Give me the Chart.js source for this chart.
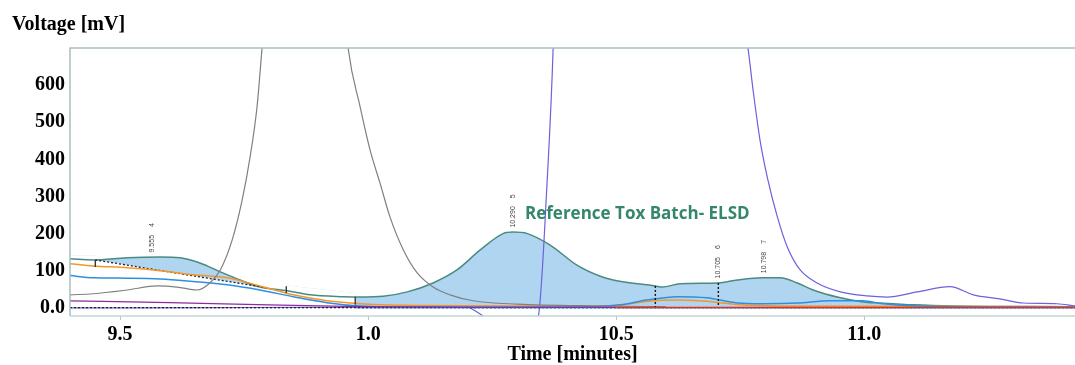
<!DOCTYPE html>
<html>
<head>
<meta charset="utf-8">
<script src="https://cdn.jsdelivr.net/npm/chart.js@4.4.1/dist/chart.umd.min.js"></script>
<style>
  body { margin: 0; background: #fff; }
  canvas { display: block; }
</style>
</head>
<body>
<canvas id="chart" width="1075" height="365"></canvas>
<script>
// axis ticks
const xTickValues = [9.5, 10.0, 10.5, 11.0];
const xTickLabels = ['9.5', '1.0', '10.5', '11.0'];
const yTickValues = [0, 100, 200, 300, 400, 500, 600];
const yTickLabels = ['0.0', '100', '200', '300', '400', '500', '600'];

// ELSD trace (filled)
const elsdTime = [9.399, 9.446, 9.514, 9.581, 9.621, 9.661, 9.702, 9.742, 9.782, 9.837, 9.883, 9.950, 9.984,
  10.030, 10.079, 10.131, 10.179, 10.226, 10.272, 10.292, 10.321, 10.367, 10.421, 10.468, 10.494, 10.579, 10.593,
  10.629, 10.706, 10.744, 10.796, 10.831, 10.865, 10.897, 10.952, 10.998, 11.032, 11.100, 11.180, 11.425];
const elsdMv = [132, 129, 135, 137, 135, 121, 97, 75, 56, 46, 35, 30, 29,
  31, 43, 67, 102, 156, 200, 204, 200, 169, 115, 85, 75, 59, 56,
  65, 67, 75, 81, 81, 67, 48, 27, 16, 13, 8, 5, 3];

// lower edge of the shaded peak areas
const fillBaseTime = [9.399, 9.449, 9.450, 9.796, 9.835, 9.836, 9.974, 9.975, 11.425];
const fillBaseMv = [140, 140, 129, 54, 50, 60, 40, -3, -3];

// dotted split line under peak 4
const splitTime = [9.450, 9.796];
const splitMv = [129, 54];

const orangeTime = [9.399, 9.446, 9.514, 9.581, 9.647, 9.716, 9.782, 9.849, 9.917, 9.984, 10.10, 10.30,
  10.494, 10.528, 10.583, 10.629, 10.696, 10.750, 10.850, 11.032, 11.425];
const orangeMv = [119, 113, 108, 100, 89, 81, 59, 35, 19, 11, 6, 5, 5, 11, 20, 21, 16, 8, 5, 4, 3];

const blueTime = [9.399, 9.446, 9.514, 9.581, 9.647, 9.716, 9.782, 9.849, 9.917, 9.984, 10.10, 10.40,
  10.508, 10.562, 10.623, 10.683, 10.744, 10.796, 10.865, 10.931, 10.998, 11.038, 11.107, 11.173, 11.425];
const blueMv = [87, 81, 80, 78, 71, 62, 48, 30, 14, 5, 2, 2, 8, 21, 30, 27, 13, 11, 13, 19, 19, 11, 5, 3, 2];

const grayTime = [9.399, 9.446, 9.514, 9.575, 9.615, 9.655, 9.681, 9.702, 9.726, 9.746, 9.762, 9.776, 9.786,
  9.830, 9.871, 9.915, 9.960, 9.984, 10.004, 10.024, 10.044, 10.071, 10.099, 10.131, 10.165, 10.212, 10.300,
  10.470, 10.600];
const grayMv = [35, 38, 48, 59, 56, 48, 67, 102, 183, 290, 406, 541, 697,
  1350, 1700, 1350, 697, 541, 425, 336, 245, 156, 94, 56, 35, 19, 10, 5, 3];

const violetTime = [9.399, 10.10, 10.192, 10.212, 10.232, 10.280, 10.335, 10.343, 10.361, 10.373, 10.390,
  10.450, 10.600, 10.700, 10.766, 10.776, 10.790, 10.806, 10.825, 10.845, 10.871, 10.905, 10.952, 11.006,
  11.046, 11.107, 11.173, 11.220, 11.274, 11.321, 11.389, 11.425];
const violetMv = [0, 2, 6, -5, -22, -60, -40, -24, 344, 700, 1600, 2200, 1800, 1200, 697, 587, 452, 344,
  245, 164, 102, 67, 43, 32, 29, 43, 57, 35, 24, 13, 11, 5];

const purpleTime = [9.399, 9.600, 9.800, 9.984, 10.200, 10.500];
const purpleMv = [19, 14, 8, 3, 1, 1];

const redTime = [10.50, 11.425];
const redMv = [1, 1];

const zeroTime = [9.399, 11.425];
const zeroMv = [0.5, 0.5];

// peak boundary markers
const markerTime = [9.450, 9.835, 9.974, 10.579, 10.706];
const markerTop = [129, 58, 30, 59, 67];
const markerBottom = [110, 40, 8, 3, 3];
const markerDashed = [false, false, false, true, true];

// peak annotations
const peakTime = [9.565, 10.292, 10.706, 10.798];
const peakLabel = ['9.555', '10.290', '10.705', '10.798'];
const peakNo = ['4', '5', '6', '7'];
const peakApexMv = [137, 204, 67, 81];

const pts = (t, v) => t.map((x, i) => ({ x: x, y: v[i] }));
const serif = "'Liberation Serif', 'Times New Roman', serif";

function line(data, color, extra) {
    return Object.assign({
        data: data,
        borderColor: color,
        borderWidth: 1.2,
        pointRadius: 0,
        fill: false,
        cubicInterpolationMode: 'monotone',
        order: 1
    }, extra || {});
}

const framePlugin = {
    id: 'frame',
    afterDraw(chart) {
        const { ctx, chartArea: a, scales } = chart;
        ctx.save();
        ctx.strokeStyle = '#a6bfbf';
        ctx.lineWidth = 1.5;
        ctx.beginPath();
        ctx.moveTo(a.left, a.bottom);
        ctx.lineTo(a.left, a.top);
        ctx.lineTo(a.right, a.top);
        ctx.stroke();
        ctx.strokeStyle = '#c2d4d4';
        ctx.beginPath();
        ctx.moveTo(a.left, a.bottom);
        ctx.lineTo(a.right, a.bottom);
        ctx.stroke();

        // peak boundary markers
        markerTime.forEach((t, i) => {
            const x = scales.x.getPixelForValue(t);
            ctx.strokeStyle = markerDashed[i] ? '#111' : '#3a3a3a';
            ctx.lineWidth = 1.4;
            ctx.setLineDash(markerDashed[i] ? [2, 2] : []);
            ctx.beginPath();
            ctx.moveTo(x, scales.y.getPixelForValue(markerTop[i]));
            ctx.lineTo(x, scales.y.getPixelForValue(markerBottom[i]));
            ctx.stroke();
        });
        ctx.setLineDash([]);

        // rotated peak labels
        ctx.fillStyle = '#444';
        ctx.font = "7px 'Liberation Sans', Arial, sans-serif";
        ctx.textBaseline = 'middle';
        ctx.textAlign = 'left';
        peakTime.forEach((t, i) => {
            const x = scales.x.getPixelForValue(t);
            const y = scales.y.getPixelForValue(peakApexMv[i]) - 4.5;
            ctx.save();
            ctx.translate(x, y);
            ctx.rotate(-Math.PI / 2);
            ctx.fillText(peakLabel[i], 0, 0);
            const w = ctx.measureText(peakLabel[i]).width;
            ctx.fillText(peakNo[i], w + 8, 0);
            ctx.restore();
        });

        // y axis caption
        ctx.fillStyle = '#000';
        ctx.font = "bold 20px " + serif;
        ctx.textBaseline = 'alphabetic';
        ctx.fillText('Voltage [mV]', 12, 30);

        // trace caption
        ctx.fillStyle = '#35876b';
        ctx.font = "bold 17px 'Open Sans', sans-serif";
        ctx.fillText('Reference Tox Batch- ELSD', 525, 219);
        ctx.restore();
    }
};

new Chart(document.getElementById('chart'), {
    type: 'line',
    data: {
        datasets: [
            line(pts(elsdTime, elsdMv), '#4b8a80', {
                borderWidth: 1.5,
                order: 10,
                fill: { target: 1, above: '#b0d5f0', below: 'rgba(0,0,0,0)' }
            }),
            line(pts(fillBaseTime, fillBaseMv), 'rgba(0,0,0,0)', {
                borderWidth: 0, cubicInterpolationMode: 'default', tension: 0, order: 11
            }),
            line(pts(purpleTime, purpleMv), '#8e2a9e'),
            line(pts(redTime, redMv), '#d8352a', { borderWidth: 1.5 }),
            line(pts(zeroTime, zeroMv), '#222', { borderDash: [2, 2], borderWidth: 1.2 }),
            line(pts(grayTime, grayMv), '#808080'),
            line(pts(blueTime, blueMv), '#2e8fe0', { borderWidth: 1.5 }),
            line(pts(orangeTime, orangeMv), '#f4962a', { borderWidth: 1.5 }),
            line(pts(violetTime, violetMv), '#6b62dc'),
            line(pts(splitTime, splitMv), '#222', { borderDash: [2, 2], borderWidth: 1.3, cubicInterpolationMode: 'default', tension: 0 })
        ]
    },
    options: {
        responsive: false,
        animation: false,
        layout: { padding: { top: 48, left: 0, right: 0, bottom: 0 } },
        plugins: { legend: { display: false }, tooltip: { enabled: false } },
        scales: {
            x: {
                type: 'linear',
                min: 9.399,
                max: 11.425,
                afterBuildTicks: s => { s.ticks = xTickValues.map(v => ({ value: v })); },
                afterFit: s => { s.height = 49; },
                ticks: {
                    callback: v => xTickLabels[xTickValues.indexOf(v)],
                    font: { family: serif, size: 20, weight: 'bold' },
                    color: '#000',
                    padding: 3,
                    maxRotation: 0,
                    autoSkip: false
                },
                grid: { drawOnChartArea: false, tickLength: 4, color: '#b4c8c8' },
                border: { display: false },
                title: {
                    display: true,
                    text: 'Time [minutes]',
                    font: { family: serif, size: 20, weight: 'bold' },
                    color: '#000',
                    padding: { top: 0, bottom: -2 }
                }
            },
            y: {
                min: -22,
                max: 700,
                afterBuildTicks: s => { s.ticks = yTickValues.map(v => ({ value: v })); },
                afterFit: s => { s.width = 70; },
                ticks: {
                    callback: v => yTickLabels[yTickValues.indexOf(v)],
                    font: { family: serif, size: 20, weight: 'bold' },
                    color: '#000',
                    padding: 5
                },
                grid: { display: false, drawTicks: false },
                border: { display: false }
            }
        }
    },
    plugins: [framePlugin]
});
</script>
</body>
</html>
